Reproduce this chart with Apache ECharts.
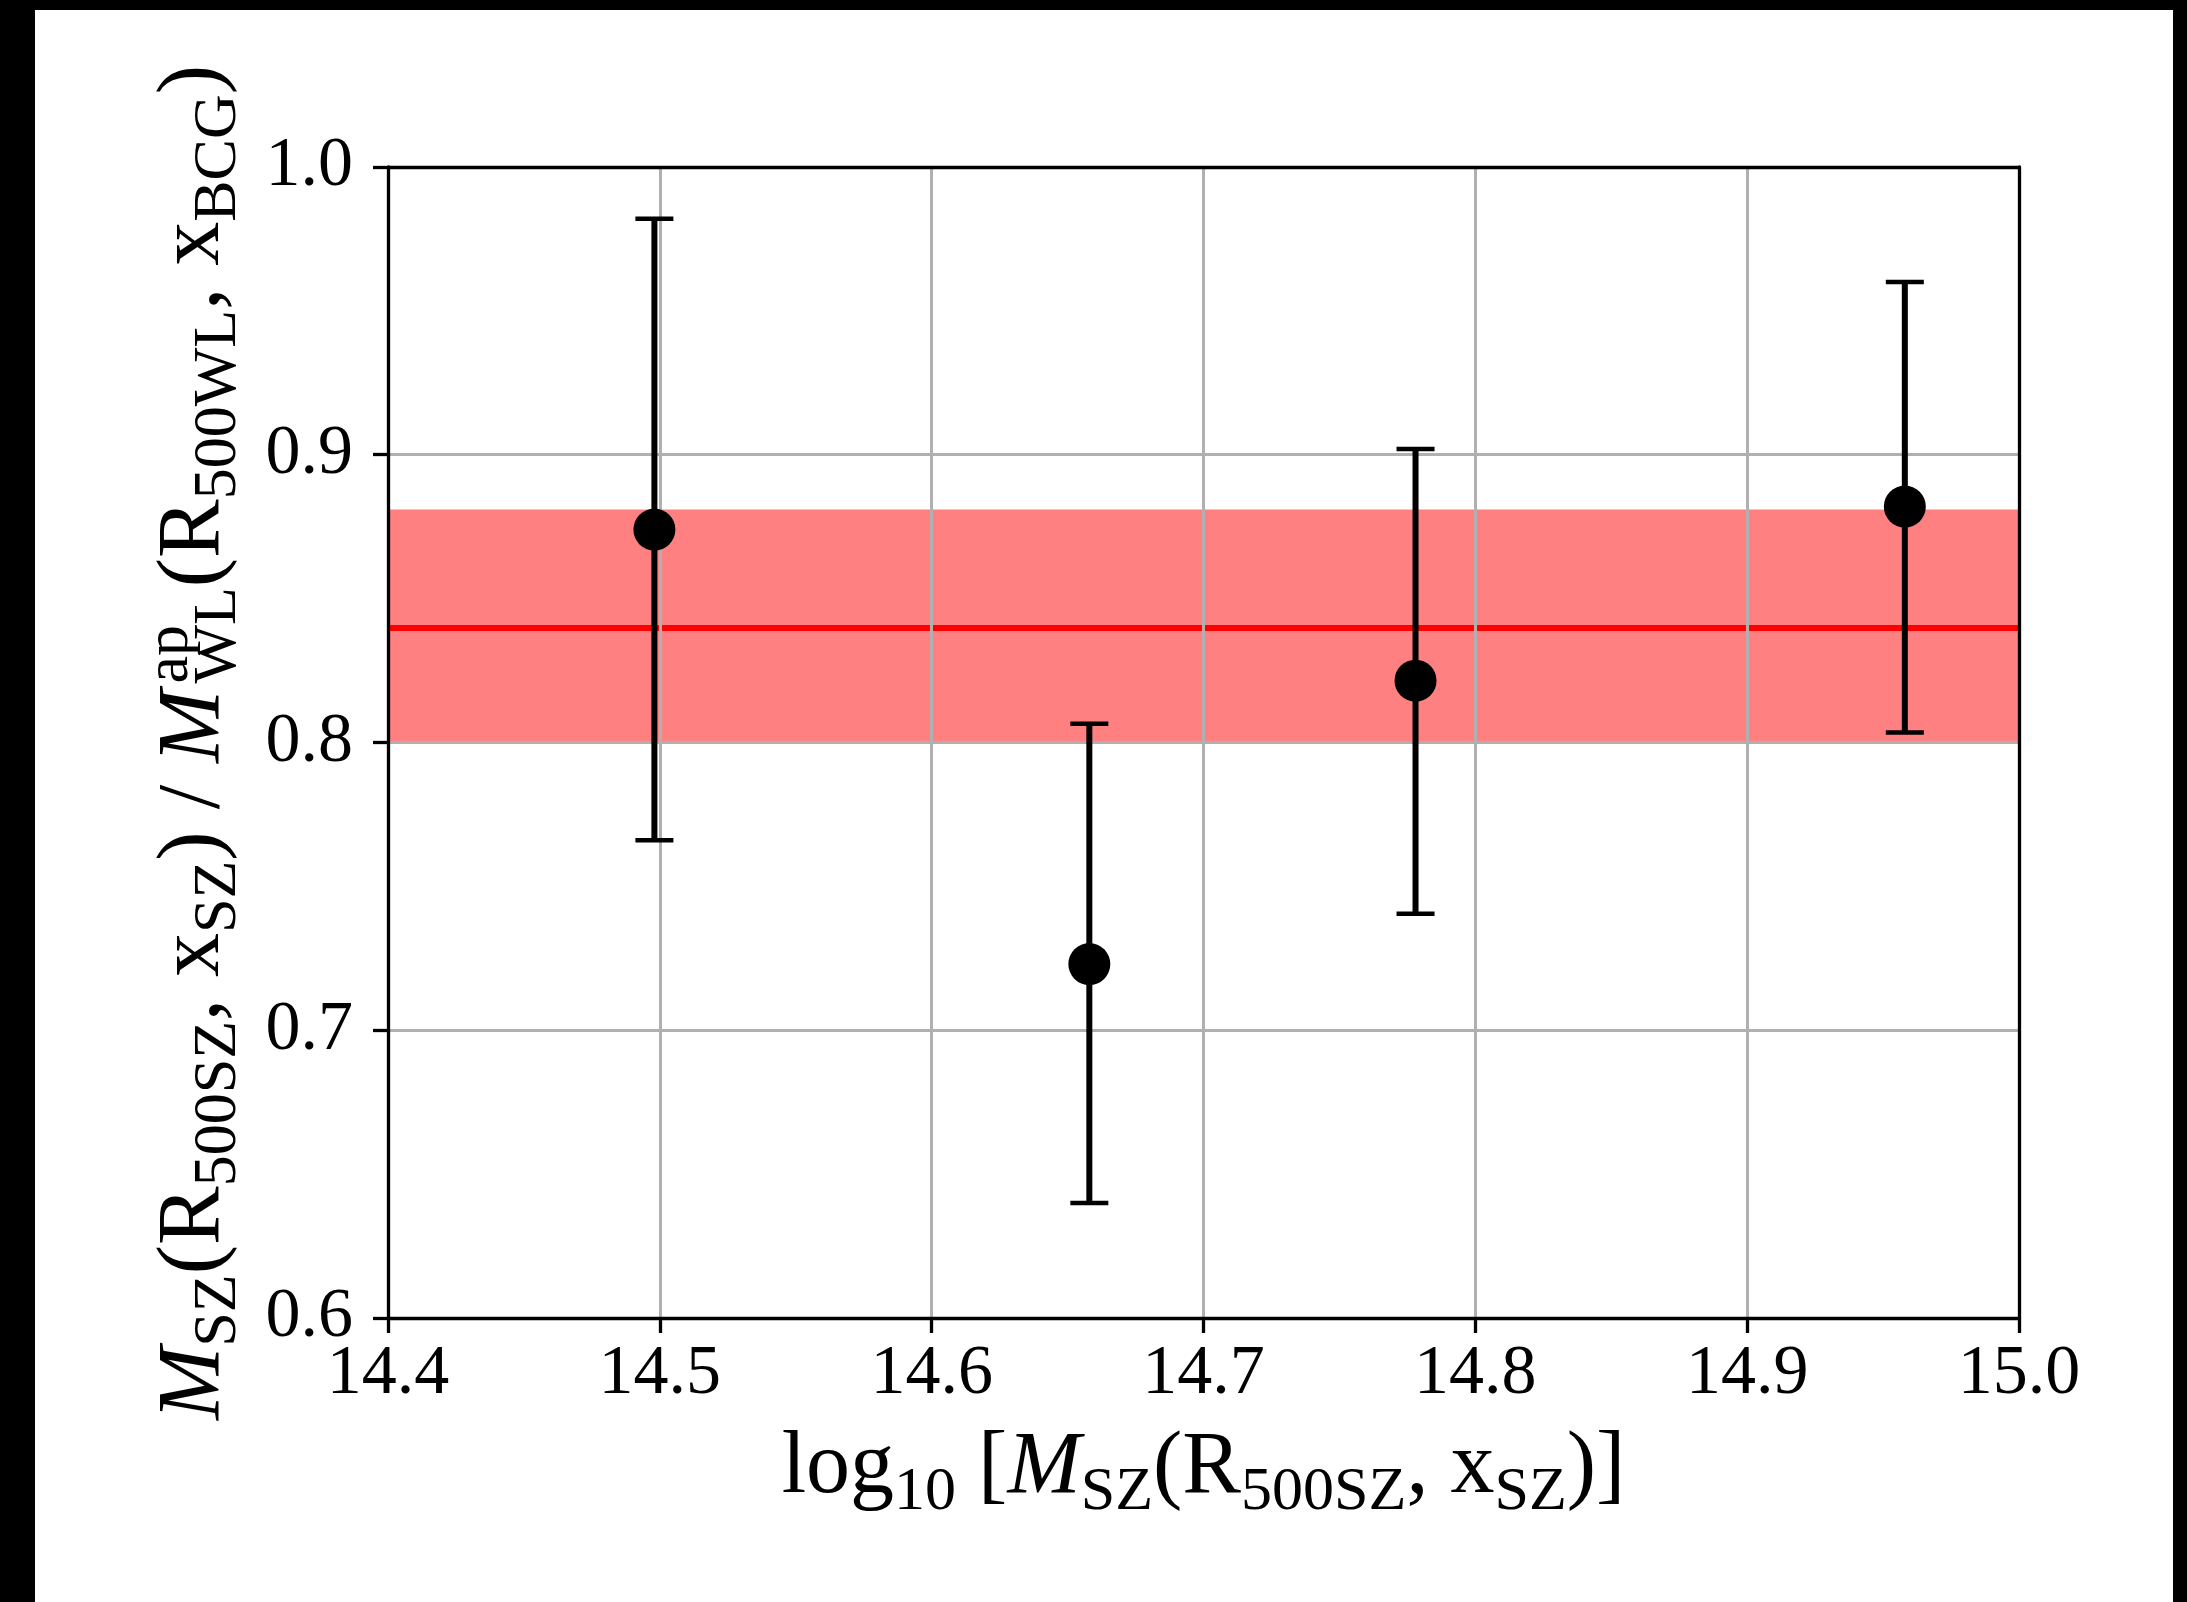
<!DOCTYPE html>
<html>
<head>
<meta charset="utf-8">
<script src="https://cdn.jsdelivr.net/npm/echarts@6/dist/echarts.min.js"></script>
<style>
html, body { margin: 0; padding: 0; background: #000; width: 2187px; height: 1602px; overflow: hidden; }
#grafico { position: absolute; left: 35px; top: 10px; width: 2138px; height: 1592px; background: #fff; }
</style>
</head>
<body>
<div id="grafico"></div>
<script>
// datos
var masa_sz   = [14.498, 14.658, 14.778, 14.958];
var cociente  = [0.874, 0.723, 0.8215, 0.882];
var error_inf = [0.766, 0.640, 0.7405, 0.8035];
var error_sup = [0.982, 0.8065, 0.902, 0.960];

var banda = [0.800, 0.881];   // franja roja
var media = 0.840;            // linea roja

var ticks_x = ['14.4', '14.5', '14.6', '14.7', '14.8', '14.9', '15.0'];
var ticks_y = ['0.6', '0.7', '0.8', '0.9', '1.0'];

var fuente = "'Liberation Serif', 'DejaVu Serif', serif";
var color_grilla = '#b0b0b0';

// estilos de texto para los titulos (subindices y superindices)
// todos con align left para que los tokens se coloquen uno tras otro
var rich_titulo = {
    n:   { fontFamily: fuente, fontSize: 88, lineHeight: 110, color: '#000', verticalAlign: 'middle', align: 'left' },
    it:  { fontFamily: fuente, fontSize: 88, lineHeight: 110, color: '#000', fontStyle: 'italic', verticalAlign: 'middle', align: 'left' },
    sub: { fontFamily: fuente, fontSize: 62, lineHeight: 60, color: '#000', verticalAlign: 'bottom', align: 'left' },
    // superindice de ancho cero: el subindice siguiente queda debajo
    sup: { fontFamily: fuente, fontSize: 62, lineHeight: 20, color: '#000', verticalAlign: 'top', align: 'left', width: 0, padding: [0, 0, 0, 6] }
};

var titulo_x = '{n|log}{sub|10}{n| [}{it|M}{sub|SZ}{n|(R}{sub|500SZ}{n|, x}{sub|SZ}{n|)]}';
var titulo_y = '{it|M}{sub|SZ}{n|(R}{sub|500SZ}{n|, x}{sub|SZ}{n|) / }{it|M}{sup|ap}{sub|WL}{n|(R}{sub|500WL}{n|, x}{sub|BCG}{n|)}';

var datos_error = masa_sz.map(function(x, i) { return [x, error_inf[i], error_sup[i]]; });
var datos_puntos = masa_sz.map(function(x, i) { return [x, cociente[i]]; });

function dibujar_error(params, api) {
    var x = api.value(0);
    var abajo = api.coord([x, api.value(1)]);
    var arriba = api.coord([x, api.value(2)]);
    var ancho = 19;
    var estilo_barra = { stroke: '#000', lineWidth: 6 };
    var estilo_tope = { stroke: '#000', lineWidth: 4.5 };
    return {
        type: 'group',
        children: [
            { type: 'line', shape: { x1: arriba[0], y1: arriba[1], x2: abajo[0], y2: abajo[1] }, style: estilo_barra },
            { type: 'line', shape: { x1: arriba[0] - ancho, y1: arriba[1], x2: arriba[0] + ancho, y2: arriba[1] }, style: estilo_tope },
            { type: 'line', shape: { x1: abajo[0] - ancho, y1: abajo[1], x2: abajo[0] + ancho, y2: abajo[1] }, style: estilo_tope }
        ]
    };
}

var chart = echarts.init(document.getElementById('grafico'));

var eje_borde = {
    show: true,
    axisLine: { show: true, onZero: false, lineStyle: { color: '#000', width: 3.3 } },
    axisTick: { show: false },
    axisLabel: { show: false },
    splitLine: { show: false },
    z: 4
};

option = {
    animation: false,
    backgroundColor: '#fff',
    grid: {
        left: 353, top: 157, right: 154, bottom: 284,
        containLabel: false,
        outerBoundsMode: 'none'
    },
    xAxis: [
        {
            type: 'value',
            min: parseFloat(ticks_x[0]),
            max: parseFloat(ticks_x[ticks_x.length - 1]),
            interval: 0.1,
            name: titulo_x,
            nameLocation: 'middle',
            nameGap: 96,
            nameTextStyle: { rich: rich_titulo },
            axisLine: { show: true, onZero: false, lineStyle: { color: '#000', width: 3.3 } },
            axisTick: { show: true, inside: false, length: 15, lineStyle: { color: '#000', width: 3.3 } },
            axisLabel: {
                margin: 22,
                color: '#000',
                fontFamily: fuente,
                fontSize: 70,
                lineHeight: 70,
                formatter: function(v) { return v.toFixed(1); }
            },
            splitLine: { show: true, lineStyle: { color: color_grilla, width: 3 } },
            z: 3
        },
        Object.assign({ type: 'value', position: 'top', min: parseFloat(ticks_x[0]), max: parseFloat(ticks_x[ticks_x.length - 1]) }, eje_borde)
    ],
    yAxis: [
        {
            type: 'value',
            min: parseFloat(ticks_y[0]),
            max: parseFloat(ticks_y[ticks_y.length - 1]),
            interval: 0.1,
            name: titulo_y,
            nameLocation: 'middle',
            nameRotate: 90,
            nameGap: 138,
            nameTextStyle: { rich: rich_titulo },
            axisLine: { show: true, onZero: false, lineStyle: { color: '#000', width: 3.3 } },
            axisTick: { show: true, inside: false, length: 15, lineStyle: { color: '#000', width: 3.3 } },
            axisLabel: {
                margin: 35,
                color: '#000',
                fontFamily: fuente,
                fontSize: 70,
                formatter: function(v) { return v.toFixed(1); }
            },
            splitLine: { show: true, lineStyle: { color: color_grilla, width: 3 } },
            z: 3
        },
        Object.assign({ type: 'value', position: 'right', min: parseFloat(ticks_y[0]), max: parseFloat(ticks_y[ticks_y.length - 1]) }, eje_borde)
    ],
    series: [
        {
            name: 'banda',
            type: 'line',
            data: [],
            z: 1,
            silent: true,
            markArea: {
                silent: true,
                z: 1,
                itemStyle: { color: '#ff8080', opacity: 1 },
                data: [[{ yAxis: banda[0] }, { yAxis: banda[1] }]]
            },
            markLine: {
                silent: true,
                z: 2,
                symbol: ['none', 'none'],
                label: { show: false },
                lineStyle: { color: '#ff0000', width: 6, type: 'solid' },
                data: [{ yAxis: media }]
            }
        },
        {
            name: 'errores',
            type: 'custom',
            renderItem: dibujar_error,
            encode: { x: 0, y: [1, 2] },
            data: datos_error,
            z: 5
        },
        {
            name: 'puntos',
            type: 'scatter',
            symbol: 'circle',
            symbolSize: 42,
            itemStyle: { color: '#000', opacity: 1 },
            data: datos_puntos,
            z: 6
        }
    ]
};

chart.setOption(option);
</script>
</body>
</html>
